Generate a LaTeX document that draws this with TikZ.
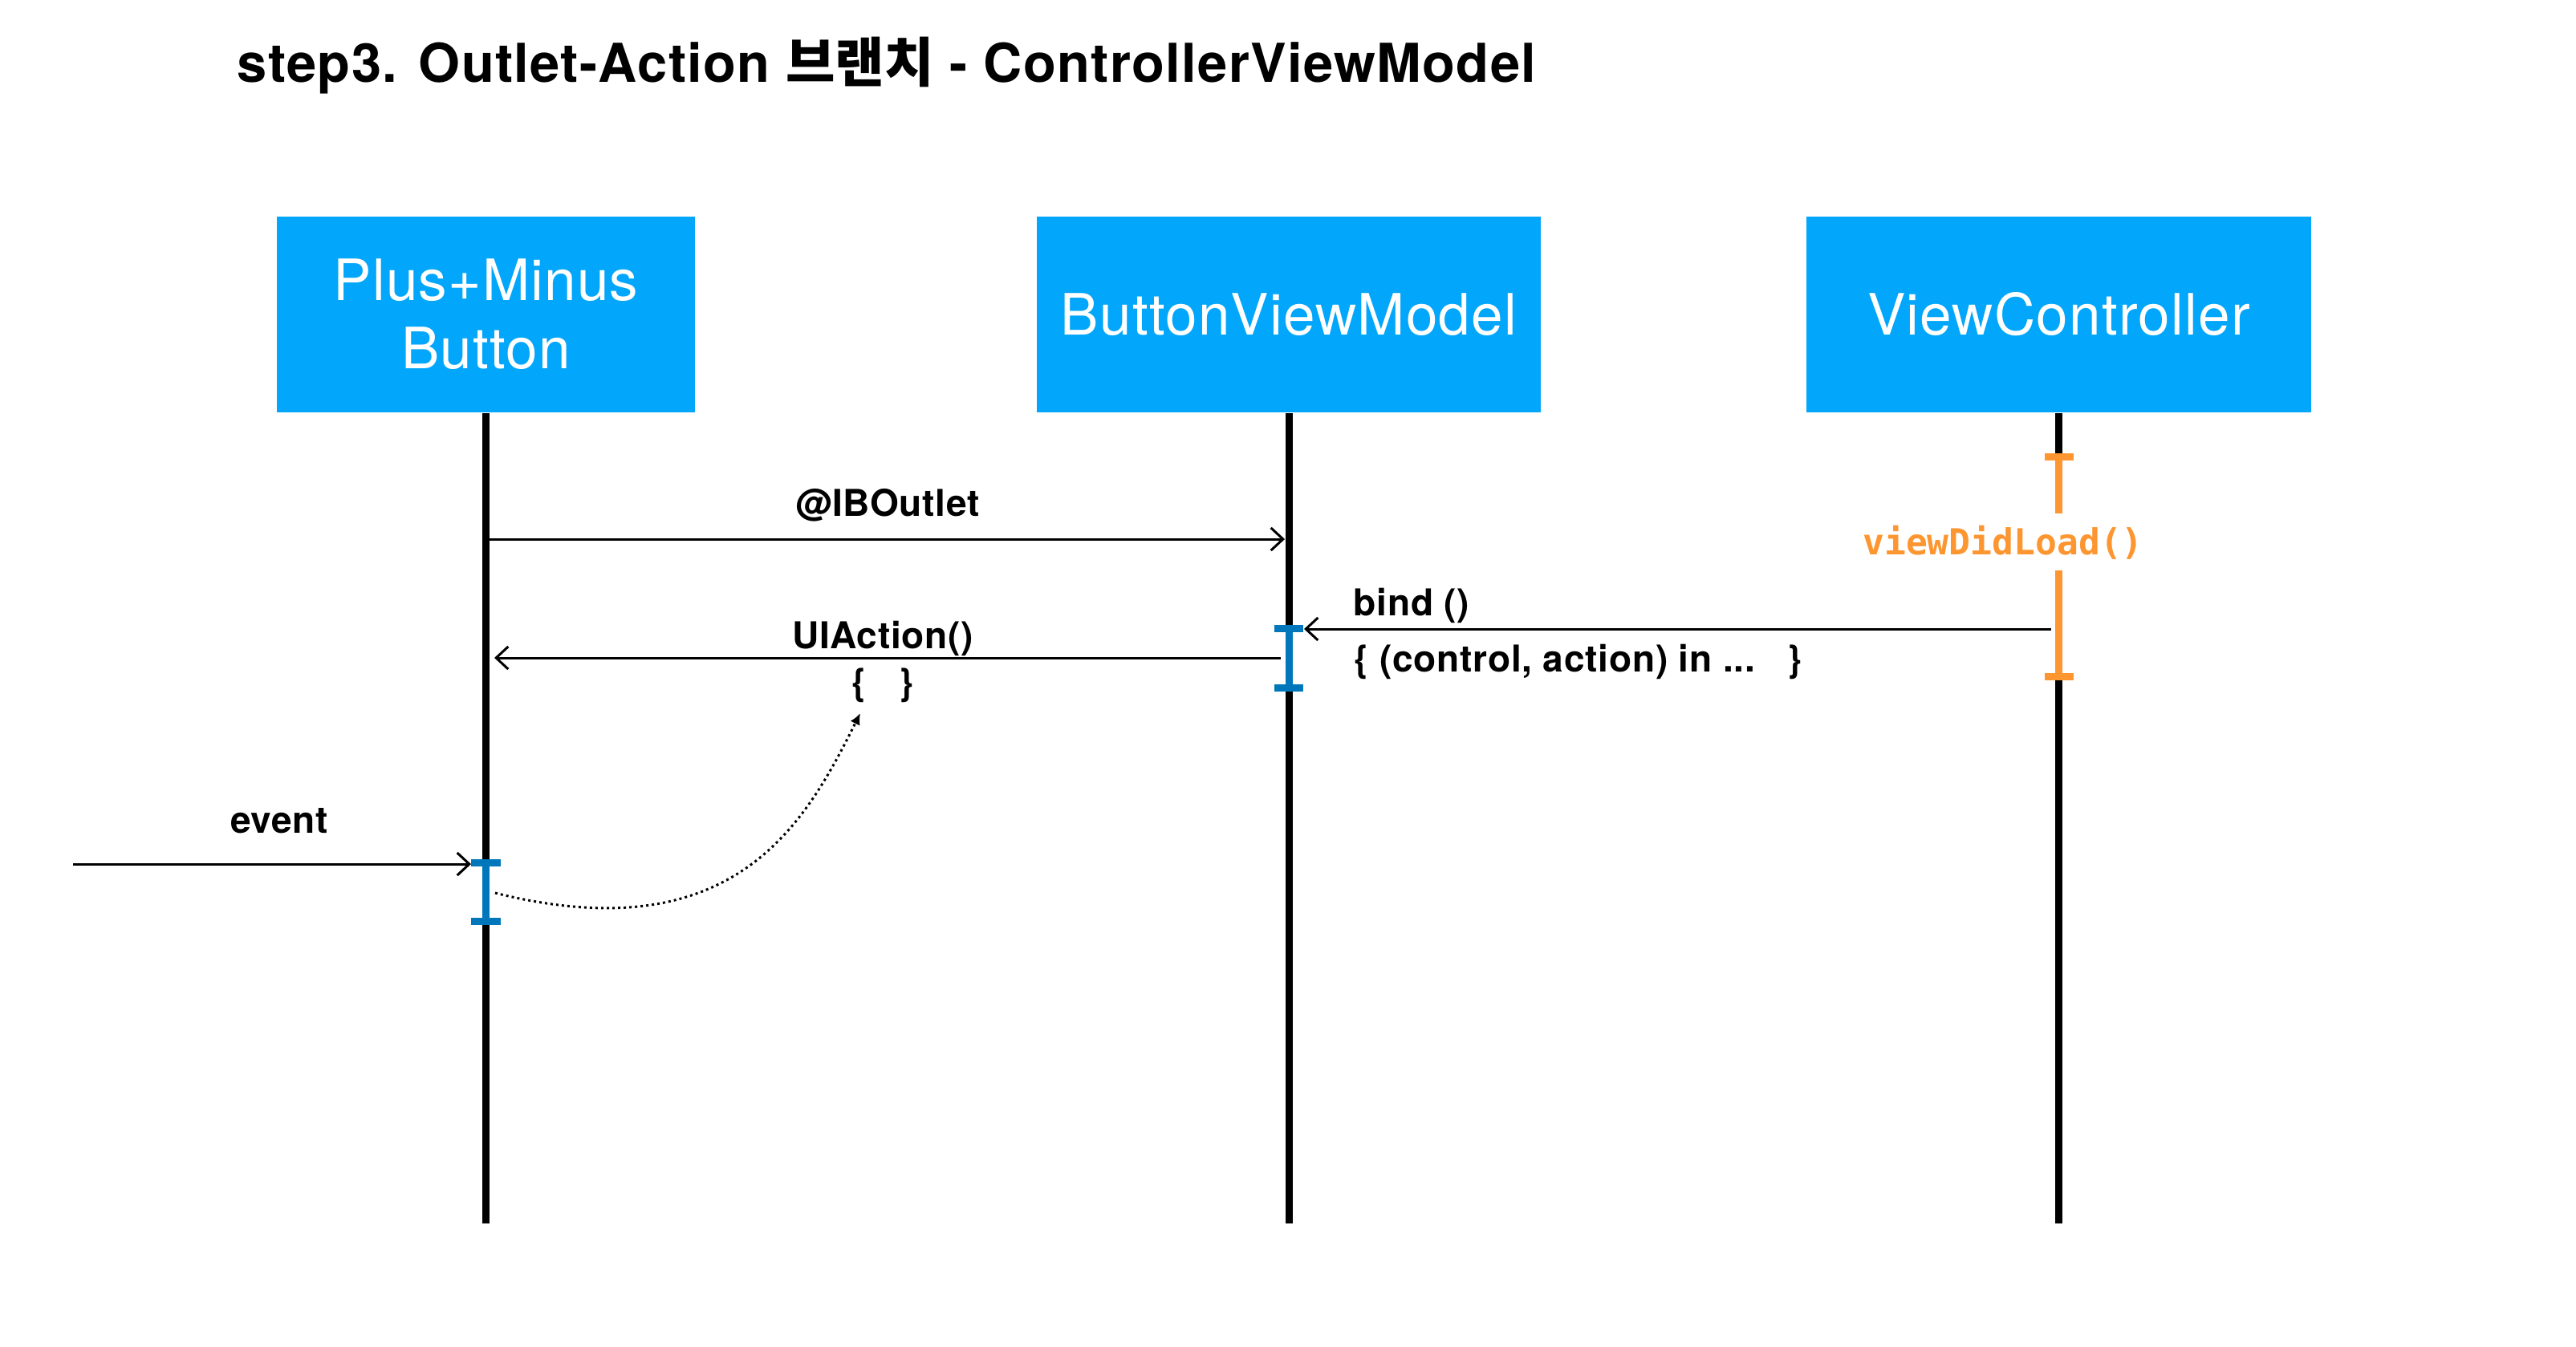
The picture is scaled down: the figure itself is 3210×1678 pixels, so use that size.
\documentclass[tikz,border=0pt]{standalone}
\usepackage{fontspec}
\setmainfont{TeX Gyre Heros}
\newfontfamily\krfont{Noto Sans CJK KR}
\newfontfamily\vmono{DejaVu Sans Mono}
\usetikzlibrary{arrows.meta}
\definecolor{boxblue}{RGB}{2,166,250}
\definecolor{actblue}{RGB}{0,119,186}
\definecolor{vorange}{RGB}{253,150,48}
\tikzset{
  lifebox/.style={fill=boxblue, text=white, minimum height=2.44cm, inner sep=0pt,
    font=\fontsize{20.2pt}{24.2pt}\selectfont\addfontfeature{LetterSpace=1.7}, align=center},
  lifeline/.style={line width=2.56pt},
  msg/.style={line width=0.85pt, -{Straight Barb[length=4.3pt,width=8pt]}},
  lbl/.style={font=\bfseries\fontsize{13.1pt}{15.7pt}\selectfont\addfontfeature{LetterSpace=1.6}, inner sep=0pt},
  actbar/.style={line width=2.56pt},
  capbox/.style={minimum width=0.36cm, minimum height=0.09cm, inner sep=0pt, outer sep=0pt},
}
\begin{document}
\begin{tikzpicture}[x=0.01cm, y=-0.01cm]
\useasboundingbox (0,0) rectangle (3210,1678);
% title
\node[anchor=base west, inner sep=0pt, font=\bfseries\fontsize{19pt}{22pt}\selectfont\addfontfeature{LetterSpace=2}] (title) at (295,102)
  {step3. Outlet-Action {\krfont\bfseries 브랜치} - ControllerViewModel};
% participants
\node[lifebox, minimum width=5.21cm] (pm) at (605.5,392) {Plus+Minus\\Button};
\node[lifebox, minimum width=6.28cm] (bvm) at (1606,392) {ButtonViewModel};
\node[lifebox, minimum width=6.29cm] (vc) at (2565.5,392) {ViewController};
% lifelines
\coordinate (pmE) at (605.5,1525);
\coordinate (bvmE) at (1606,1525);
\coordinate (vcE) at (2565.5,1525);
\draw[lifeline] (pm.south) -- (pmE);
\draw[lifeline] (bvm.south) -- (bvmE);
\draw[lifeline] (vc.south) -- (vcE);
% orange activation on ViewController
\coordinate (oa1) at (2565.5,569.5);
\coordinate (oa2) at (2565.5,843.5);
\draw[actbar, vorange] (oa1) -- (oa2);
\node[capbox, fill=vorange] (oc1) at (oa1) {};
\node[capbox, fill=vorange] (oc2) at (oa2) {};
\node[fill=white, inner xsep=1pt, minimum height=0.71cm, anchor=base, text=vorange,
  font=\vmono\bfseries\fontsize{12.7pt}{15pt}\selectfont] (vdl) at (2496,691) {viewDidLoad()};
% blue activation on ButtonViewModel
\coordinate (ba1) at (1606,783);
\coordinate (ba2) at (1606,857);
\draw[actbar, actblue] (ba1) -- (ba2);
\node[capbox, fill=actblue] (bc1) at (ba1) {};
\node[capbox, fill=actblue] (bc2) at (ba2) {};
% blue activation on Plus+Minus Button
\coordinate (pa1) at (605.5,1075.5);
\coordinate (pa2) at (605.5,1148.5);
\draw[actbar, actblue] (pa1) -- (pa2);
\node[capbox, fill=actblue] (pc1) at (pa1) {};
\node[capbox, fill=actblue] (pc2) at (pa2) {};
% messages
\coordinate (io1) at (610,672);
\coordinate (io2) at (1601,672);
\draw[msg] (io1) -- (io2);
\node[lbl, anchor=base] (lout) at (1106,643) {@IBOutlet};
\coordinate (bd1) at (2556,784);
\coordinate (bd2) at (1625,784);
\draw[msg] (bd1) -- (bd2);
\node[lbl, anchor=base west] (lbind) at (1686,767) {bind ()};
\node[lbl, anchor=base west] (lclos) at (1687,837) {\{ (control, action) in ...~~~\}};
\coordinate (ua1) at (1596,820);
\coordinate (ua2) at (616,820);
\draw[msg] (ua1) -- (ua2);
\node[lbl, anchor=base] (lact) at (1100,808) {UIAction()};
\node[lbl, anchor=base] (lbr) at (1100,866) {\{~~~\}};
\coordinate (ev1) at (91,1077);
\coordinate (ev2) at (587,1077);
\draw[msg] (ev1) -- (ev2);
\node[lbl, anchor=base] (levt) at (348,1038) {event};
% dotted callback
\coordinate (dc1) at (617,1113);
\coordinate (dc2) at (1072,889);
\draw[line width=0.85pt, dash pattern=on 0.85pt off 1.15pt, -{Latex[length=4pt,width=3.8pt]}]
  (dc1) .. controls (917,1188) and (1004.5,1024) .. (dc2);
\end{tikzpicture}
\end{document}
